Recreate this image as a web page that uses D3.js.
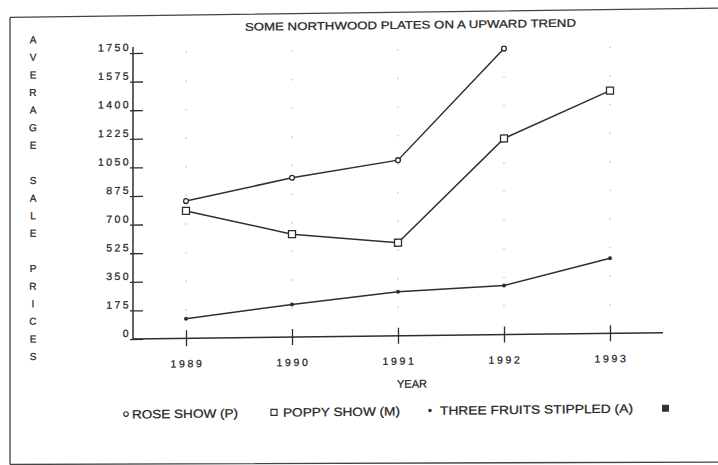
<!DOCTYPE html>
<html><head><meta charset="utf-8">
<script src="https://cdn.jsdelivr.net/npm/d3@7/dist/d3.min.js"></script>
<style>
html,body{margin:0;padding:0;background:#fff;}
svg{display:block;}
text{font-family:"Liberation Sans",Arial,sans-serif;fill:#262626;stroke:#262626;stroke-width:0.25;}
</style></head>
<body>
<svg id="chart" width="718" height="465"></svg>
<script>
const title = "SOME NORTHWOOD PLATES ON A UPWARD TREND";
const years = [1989, 1990, 1991, 1992, 1993];
const yTicks = [0, 175, 350, 525, 700, 875, 1050, 1225, 1400, 1575, 1750];
const roseShow = [840, 975, 1075, 1750, null];
const poppyShow = [780, 630, 570, 1200, 1485];
const threeFruits = [120, 200, 270, 300, 460];
const seriesNames = ["ROSE SHOW (P)", "POPPY SHOW (M)", "THREE FRUITS STIPPLED (A)", ""];
const yLabel = "AVERAGE SALE PRICES";
const xLabel = "YEAR";

const svg = d3.select("#chart");
const ink = "#2e2e2e";

// slight scan tilt
const g = svg.append("g").attr("transform", "translate(133,339) skewY(-0.68) translate(-133,-339)");

// frame (left, top, bottom)
g.append("path").attr("d", "M10,16 L10,463 M10,16 L718,15 M10,463 L718,469")
  .attr("fill", "none").attr("stroke", "#444").attr("stroke-width", 1.3);

const x = d3.scalePoint().domain(years).range([133, 663]).padding(0.5);
const y = d3.scaleLinear().domain([0, 1750]).range([339, 53]);

// faint dot grid
years.forEach(yr => {
  yTicks.slice(1).forEach(t => {
    g.append("circle").attr("cx", x(yr)).attr("cy", y(t)).attr("r", 0.9).attr("fill", "#d0d0d0");
  });
});

// y axis
const yAxis = d3.axisRight(y).tickValues(yTicks).tickSize(10).tickFormat("");
const ya = g.append("g").attr("transform", "translate(133,0)").call(yAxis);
ya.select(".domain").attr("stroke", ink).attr("stroke-width", 1.5).attr("d", `M0,${y(1750)-6}V${y(0)}`);
ya.selectAll(".tick line").attr("stroke", ink).attr("stroke-width", 1.3).attr("x1", -3);
yTicks.forEach(t => {
  g.append("text").attr("x", 131).attr("y", y(t) - 2).attr("text-anchor", "end")
    .attr("font-size", 10.5).attr("letter-spacing", 2.4).text(t);
});

// x axis
const xAxis = d3.axisBottom(x).tickSize(8).tickFormat("");
const xa = g.append("g").attr("transform", `translate(0,${y(0)})`).call(xAxis);
xa.select(".domain").attr("stroke", ink).attr("stroke-width", 1.5).attr("d", "M133,0H663");
xa.selectAll(".tick line").attr("stroke", ink).attr("stroke-width", 1.3).attr("y1", -8).attr("y2", 8);
years.forEach(yr => {
  g.append("text").attr("x", x(yr) + 1.5).attr("y", 368).attr("text-anchor", "middle")
    .attr("font-size", 10.5).attr("letter-spacing", 2.6).text(yr);
});

g.append("text").attr("x", 412).attr("y", 391).attr("text-anchor", "middle")
  .attr("font-size", 11).text(xLabel);

// title
g.append("text").attr("x", 245).attr("y", 32).attr("font-size", 11)
  .attr("textLength", 331).attr("lengthAdjust", "spacingAndGlyphs").text(title);

// y label, stacked letters
yLabel.split("").forEach((ch, i) => {
  g.append("text").attr("x", 33).attr("y", 42 + i * 17.6).attr("text-anchor", "middle")
    .attr("font-size", 10).text(ch);
});

// lines
const line = d3.line().defined(d => d.v != null).x(d => x(d.yr)).y(d => y(d.v));
const mk = arr => years.map((yr, i) => ({ yr, v: arr[i] }));
[roseShow, poppyShow, threeFruits].forEach(arr => {
  g.append("path").datum(mk(arr)).attr("d", line).attr("fill", "none")
    .attr("stroke", ink).attr("stroke-width", 1.5);
});

// markers
mk(roseShow).filter(d => d.v != null).forEach(d => {
  g.append("circle").attr("cx", x(d.yr)).attr("cy", y(d.v)).attr("r", 2.4)
    .attr("fill", "#fff").attr("stroke", ink).attr("stroke-width", 1.3);
});
mk(poppyShow).forEach(d => {
  g.append("rect").attr("x", x(d.yr) - 3.5).attr("y", y(d.v) - 3.5).attr("width", 7).attr("height", 7)
    .attr("fill", "#fff").attr("stroke", ink).attr("stroke-width", 1.3);
});
mk(threeFruits).forEach(d => {
  g.append("circle").attr("cx", x(d.yr)).attr("cy", y(d.v)).attr("r", 2)
    .attr("fill", ink);
});

// legend
const ly = 414;
g.append("circle").attr("cx", 126).attr("cy", ly).attr("r", 2.3).attr("fill", "#fff").attr("stroke", ink).attr("stroke-width", 1.1);
g.append("text").attr("x", 132).attr("y", ly + 4.5).attr("font-size", 12)
  .attr("textLength", 106).attr("lengthAdjust", "spacingAndGlyphs").text(seriesNames[0]);
g.append("rect").attr("x", 271).attr("y", ly - 3).attr("width", 6).attr("height", 6)
  .attr("fill", "#fff").attr("stroke", ink).attr("stroke-width", 1.2);
g.append("text").attr("x", 283).attr("y", ly + 4.5).attr("font-size", 12)
  .attr("textLength", 117).attr("lengthAdjust", "spacingAndGlyphs").text(seriesNames[1]);
g.append("circle").attr("cx", 430).attr("cy", ly).attr("r", 1.8).attr("fill", ink);
g.append("text").attr("x", 440).attr("y", ly + 4.5).attr("font-size", 12)
  .attr("textLength", 193).attr("lengthAdjust", "spacingAndGlyphs").text(seriesNames[2]);
g.append("rect").attr("x", 662).attr("y", ly - 3).attr("width", 7).attr("height", 7).attr("fill", "#333");
</script>
</body></html>
